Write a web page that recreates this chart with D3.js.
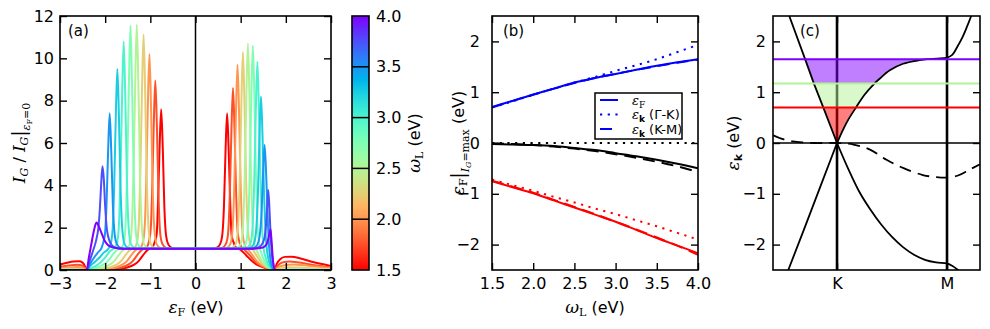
<!DOCTYPE html>
<html>
<head>
<meta charset="utf-8">
<script src="https://cdn.jsdelivr.net/npm/d3@7"></script>
<style>
  body { margin: 0; background: #fff; }
  svg { display: block; font-family: "DejaVu Sans", sans-serif; }
</style>
</head>
<body>
<svg id="fig" width="990" height="329"></svg>
<script>
// ---------- data: panel (a) ----------
const omegaL = [1.5, 1.75, 2.0, 2.25, 2.5, 2.75, 3.0, 3.25, 3.5, 3.75, 4.0];
const cbTicks = [1.5, 2.0, 2.5, 3.0, 3.5, 4.0];

// I_G / I_G(eF=0) vs eF, one curve per laser energy
const igCurves = [
  // 1.50 eV
  [[-3,0.26],[-2.85,0.34],[-2.7,0.4],[-2.58,0.41],[-2.5,0.35],[-2.44,0.15],[-2.41,0],[-2.2,0.01],[-1.96,0.02],[-1.71,0.05],[-1.51,0.12],[-1.36,0.25],[-1.26,0.42],[-1.16,0.7],[-1.06,0.95],[-0.96,1.05],[-0.9,1.35],[-0.86,1.67],[-0.83,3.19],[-0.795,5.78],[-0.76,7.6],[-0.725,5.78],[-0.69,3.0],[-0.65,1.6],[-0.6,1.2],[-0.52,1.04],[-0.41,1.0],[0.35,1.0],[0.46,1.04],[0.54,1.2],[0.59,1.6],[0.63,3.0],[0.665,5.62],[0.70,7.4],[0.735,5.62],[0.77,3.11],[0.80,1.63],[0.84,1.33],[0.90,1.05],[1.0,0.95],[1.12,0.7],[1.25,0.42],[1.35,0.26],[1.5,0.13],[1.65,0.04],[1.75,0],[1.8,0.3],[1.88,0.52],[1.98,0.62],[2.12,0.63],[2.35,0.53],[2.6,0.38],[2.8,0.28],[3.0,0.19]],
  // 1.75 eV
  [[-3,0.15],[-2.8,0.21],[-2.62,0.25],[-2.5,0.2],[-2.44,0.08],[-2.41,0],[-2.3,0.01],[-2.09,0.02],[-1.84,0.05],[-1.64,0.12],[-1.49,0.25],[-1.39,0.42],[-1.29,0.7],[-1.19,0.95],[-1.09,1.05],[-1.03,1.35],[-0.99,1.97],[-0.96,3.76],[-0.925,6.8],[-0.89,8.95],[-0.855,6.8],[-0.82,3.6],[-0.78,1.7],[-0.73,1.22],[-0.65,1.04],[-0.54,1.0],[0.48,1.0],[0.59,1.04],[0.67,1.22],[0.72,1.7],[0.76,3.61],[0.795,6.54],[0.83,8.6],[0.865,6.54],[0.90,3.61],[0.93,1.89],[0.97,1.33],[1.03,1.05],[1.09,0.95],[1.2,0.7],[1.31,0.42],[1.4,0.26],[1.53,0.13],[1.66,0.04],[1.75,0],[1.8,0.15],[1.87,0.3],[1.97,0.38],[2.08,0.4],[2.3,0.35],[2.6,0.24],[3.0,0.12]],
  // 2.00 eV
  [[-3,0.08],[-2.8,0.12],[-2.62,0.14],[-2.5,0.11],[-2.41,0],[-2.22,0.02],[-1.97,0.05],[-1.77,0.12],[-1.62,0.25],[-1.52,0.42],[-1.42,0.7],[-1.32,0.95],[-1.22,1.05],[-1.16,1.35],[-1.12,2.24],[-1.09,4.28],[-1.055,7.75],[-1.02,10.2],[-0.985,7.75],[-0.95,4.1],[-0.91,1.9],[-0.86,1.22],[-0.78,1.04],[-0.67,1.0],[0.58,1.0],[0.69,1.04],[0.77,1.22],[0.82,1.9],[0.86,4.07],[0.895,7.37],[0.93,9.7],[0.965,7.37],[1.0,4.07],[1.03,2.13],[1.07,1.35],[1.12,1.05],[1.17,0.95],[1.26,0.7],[1.36,0.42],[1.44,0.26],[1.55,0.13],[1.67,0.04],[1.76,0],[1.82,0.1],[1.9,0.19],[2.0,0.24],[2.15,0.26],[2.5,0.2],[3.0,0.08]],
  // 2.25 eV
  [[-3,0.04],[-2.75,0.06],[-2.55,0.05],[-2.41,0],[-2.1,0.05],[-1.9,0.12],[-1.75,0.25],[-1.65,0.42],[-1.55,0.7],[-1.45,0.95],[-1.35,1.05],[-1.29,1.35],[-1.25,2.45],[-1.22,4.67],[-1.185,8.46],[-1.15,11.13],[-1.115,8.46],[-1.08,4.5],[-1.04,2.0],[-0.99,1.22],[-0.91,1.04],[-0.8,1.0],[0.70,1.0],[0.81,1.04],[0.89,1.22],[0.94,1.95],[0.98,4.33],[1.015,7.83],[1.05,10.3],[1.085,7.83],[1.12,4.33],[1.15,2.27],[1.19,1.4],[1.24,1.05],[1.29,0.9],[1.36,0.65],[1.43,0.42],[1.5,0.26],[1.59,0.13],[1.68,0.04],[1.76,0],[1.84,0.06],[1.95,0.11],[2.1,0.13],[2.3,0.12],[2.6,0.08],[3.0,0.04]],
  // 2.50 eV
  [[-3,0.02],[-2.7,0.03],[-2.41,0],[-2.25,0.05],[-2.05,0.12],[-1.9,0.25],[-1.8,0.42],[-1.7,0.7],[-1.6,0.95],[-1.5,1.05],[-1.44,1.35],[-1.40,2.55],[-1.37,4.87],[-1.335,8.82],[-1.30,11.6],[-1.265,8.82],[-1.23,4.7],[-1.19,2.1],[-1.14,1.22],[-1.06,1.04],[-0.95,1.0],[0.81,1.0],[0.92,1.04],[1.0,1.22],[1.05,2.0],[1.09,4.49],[1.125,8.13],[1.16,10.7],[1.195,8.13],[1.23,4.49],[1.26,2.35],[1.30,1.3],[1.35,0.95],[1.41,0.65],[1.48,0.4],[1.55,0.22],[1.63,0.1],[1.70,0.03],[1.76,0],[1.9,0.03],[2.2,0.05],[2.6,0.03],[3.0,0.02]],
  // 2.75 eV
  [[-3,0.01],[-2.41,0],[-2.34,0.05],[-2.19,0.12],[-2.04,0.25],[-1.94,0.42],[-1.84,0.7],[-1.74,0.95],[-1.64,1.05],[-1.58,1.35],[-1.54,2.54],[-1.51,4.85],[-1.475,8.78],[-1.44,11.55],[-1.405,8.78],[-1.37,4.7],[-1.33,2.1],[-1.28,1.22],[-1.2,1.04],[-1.09,1.0],[0.92,1.0],[1.03,1.04],[1.11,1.22],[1.16,2.0],[1.20,4.45],[1.235,8.06],[1.27,10.6],[1.305,8.06],[1.34,4.45],[1.37,2.33],[1.41,1.2],[1.45,0.85],[1.50,0.55],[1.56,0.3],[1.62,0.14],[1.68,0.05],[1.76,0],[2.2,0.02],[3.0,0.01]],
  // 3.00 eV
  [[-3,0],[-2.41,0],[-2.29,0.12],[-2.19,0.22],[-2.09,0.38],[-1.99,0.62],[-1.89,0.9],[-1.79,1.05],[-1.73,1.35],[-1.69,2.38],[-1.66,4.54],[-1.625,8.21],[-1.59,10.8],[-1.555,8.21],[-1.52,4.4],[-1.48,2.0],[-1.43,1.22],[-1.35,1.04],[-1.24,1.0],[1.02,1.0],[1.13,1.04],[1.21,1.22],[1.26,1.9],[1.30,4.13],[1.335,7.48],[1.37,9.84],[1.405,7.48],[1.44,4.13],[1.47,2.16],[1.51,1.0],[1.55,0.6],[1.60,0.3],[1.65,0.13],[1.70,0.04],[1.76,0],[3.0,0]],
  // 3.25 eV
  [[-3,0],[-2.41,0],[-2.33,0.2],[-2.23,0.38],[-2.13,0.58],[-2.03,0.82],[-1.93,1.0],[-1.87,1.3],[-1.83,2.09],[-1.80,3.99],[-1.765,7.22],[-1.73,9.5],[-1.695,7.22],[-1.66,3.9],[-1.62,1.9],[-1.57,1.22],[-1.49,1.04],[-1.38,1.0],[1.10,1.0],[1.21,1.04],[1.29,1.22],[1.34,1.8],[1.38,3.44],[1.415,6.23],[1.45,8.2],[1.485,6.23],[1.52,3.44],[1.55,1.8],[1.59,0.8],[1.63,0.4],[1.67,0.17],[1.71,0.05],[1.76,0],[3.0,0]],
  // 3.50 eV
  [[-3,0],[-2.41,0],[-2.33,0.3],[-2.24,0.6],[-2.15,0.85],[-2.08,1.05],[-2.03,1.4],[-2.0,1.8],[-1.97,3.1],[-1.935,5.6],[-1.90,7.4],[-1.865,5.6],[-1.83,3.1],[-1.79,1.7],[-1.74,1.22],[-1.66,1.04],[-1.55,1.0],[1.18,1.0],[1.29,1.04],[1.37,1.2],[1.42,1.6],[1.46,2.6],[1.495,4.5],[1.53,5.9],[1.565,4.5],[1.6,2.4],[1.63,1.1],[1.66,0.5],[1.70,0.15],[1.75,0],[3.0,0]],
  // 3.75 eV
  [[-3,0],[-2.41,0],[-2.34,0.45],[-2.27,0.9],[-2.2,1.4],[-2.15,2.0],[-2.12,2.8],[-2.09,4.0],[-2.06,4.9],[-2.03,4.3],[-2.0,3.0],[-1.96,1.9],[-1.9,1.35],[-1.82,1.1],[-1.7,1.02],[-1.55,1.0],[1.2,1.0],[1.35,1.04],[1.45,1.15],[1.52,1.45],[1.56,2.1],[1.59,3.1],[1.61,3.78],[1.635,3.0],[1.66,1.8],[1.69,0.8],[1.72,0.3],[1.76,0],[3.0,0]],
  // 4.00 eV
  [[-3,0],[-2.41,0],[-2.36,0.6],[-2.3,1.3],[-2.25,1.85],[-2.21,2.18],[-2.19,2.24],[-2.16,2.15],[-2.1,1.85],[-2.02,1.42],[-1.94,1.18],[-1.84,1.07],[-1.7,1.02],[-1.5,1.0],[1.2,1.0],[1.4,1.03],[1.5,1.07],[1.57,1.2],[1.61,1.45],[1.64,1.75],[1.66,1.92],[1.68,1.5],[1.71,0.6],[1.74,0.1],[1.76,0],[3.0,0]]
];

// ---------- data: panel (b) ----------
const efUpper   = [0.71, 0.83, 0.955, 1.07, 1.19, 1.28, 1.36, 1.44, 1.52, 1.59, 1.65];
const ekGKUpper = [0.70, 0.82, 0.95, 1.07, 1.19, 1.30, 1.42, 1.53, 1.65, 1.79, 1.93];
const ekKMUpper = [0.70, 0.83, 0.95, 1.07, 1.18, 1.28, 1.36, 1.44, 1.51, 1.58, 1.64];
const efMiddle   = [-0.02, -0.03, -0.04, -0.06, -0.10, -0.14, -0.20, -0.26, -0.33, -0.41, -0.50];
const ekGKMiddle = [0, 0, 0, 0, 0, 0, 0, 0, 0, 0, 0];
const ekKMMiddle = [-0.01, -0.02, -0.04, -0.07, -0.11, -0.16, -0.22, -0.29, -0.37, -0.46, -0.57];
const efLower   = [-0.75, -0.87, -0.99, -1.13, -1.27, -1.41, -1.55, -1.71, -1.87, -2.02, -2.17];
const ekGKLower = [-0.72, -0.83, -0.94, -1.06, -1.17, -1.29, -1.40, -1.52, -1.64, -1.77, -1.90];
const ekKMLower = [-0.74, -0.86, -0.98, -1.12, -1.26, -1.40, -1.55, -1.70, -1.86, -2.02, -2.20];

// ---------- data: panel (c) ----------  k: K = 0, M = 1
const bandUpperGK = [[0,0],[-0.125,0.7],[-0.21,1.17],[-0.29,1.65],[-0.434,2.5],[-0.46,2.65]];
const bandLowerGK = [[0,0],[-0.15,-0.85],[-0.3,-1.7],[-0.443,-2.5],[-0.47,-2.65]];
const bandUpperKM = [[0,0],[0.05,0.24],[0.1,0.45],[0.173,0.7],[0.25,0.95],[0.34,1.17],[0.39,1.27],[0.48,1.43],[0.6,1.56],[0.75,1.63],[0.82,1.65],[0.91,1.66],[1.0,1.68],[1.05,1.74],[1.09,1.88],[1.14,2.08],[1.18,2.28],[1.22,2.5],[1.24,2.62]];
const bandLowerKM = [[0,0],[0.1,-0.5],[0.2,-0.95],[0.3,-1.3],[0.4,-1.6],[0.5,-1.85],[0.6,-2.05],[0.7,-2.2],[0.8,-2.3],[0.9,-2.35],[1.0,-2.37],[1.05,-2.42],[1.1,-2.5],[1.13,-2.56]];
const dashedBand  = [[-0.58,0.15],[-0.5,0.08],[-0.4,0.03],[-0.3,0.01],[-0.2,0.0],[0,0],[0.15,-0.03],[0.3,-0.13],[0.45,-0.33],[0.6,-0.49],[0.78,-0.63],[0.9,-0.67],[1.0,-0.68],[1.1,-0.64],[1.2,-0.53],[1.3,-0.42]];
const levelE = [0.70, 1.17, 1.65];
const levelOmega = [1.5, 2.5, 4.0];

// ---------- helpers ----------
const SERIF = '"DejaVu Serif", serif';
const svg = d3.select('#fig');
const plotTop = 16, plotBottom = 270;

// matplotlib 'rainbow' colormap
function rainbow(t) {
  const r = Math.min(1, Math.abs(2 * t - 0.5));
  const g = Math.sin(t * Math.PI);
  const b = Math.max(0, Math.cos(t * Math.PI / 2));
  return d3.rgb(r * 255, g * 255, b * 255).formatHex();
}
const colorOf = w => rainbow((4.0 - w) / 2.5);

function styleAxis(g) {
  g.selectAll('.domain').remove();
  g.selectAll('.tick line').attr('stroke', '#000').attr('stroke-width', 1.4);
  g.selectAll('.tick text')
    .attr('font-size', 16)
    .attr('font-family', '"DejaVu Sans", sans-serif')
    .attr('fill', '#000');
}

function drawAxes(x, y, xTicks, yTicks, xFmt, yFmt, yPad) {
  const [xl, xr] = x.range();
  const [yb, yt] = y.range();
  const g = svg.append('g');
  g.append('g').attr('transform', 'translate(0,' + yb + ')')
    .call(d3.axisBottom(x).tickValues(xTicks).tickFormat(xFmt).tickSizeInner(-7).tickSizeOuter(0).tickPadding(8));
  g.append('g').attr('transform', 'translate(0,' + yt + ')')
    .call(d3.axisTop(x).tickValues(xTicks).tickFormat(() => '').tickSizeInner(-7).tickSizeOuter(0));
  g.append('g').attr('transform', 'translate(' + xl + ',0)')
    .call(d3.axisLeft(y).tickValues(yTicks).tickFormat(yFmt).tickSizeInner(-7).tickSizeOuter(0).tickPadding(yPad || 6));
  g.append('g').attr('transform', 'translate(' + xr + ',0)')
    .call(d3.axisRight(y).tickValues(yTicks).tickFormat(() => '').tickSizeInner(-7).tickSizeOuter(0));
  styleAxis(g);
  g.append('rect')
    .attr('x', xl).attr('y', yt).attr('width', xr - xl).attr('height', yb - yt)
    .attr('fill', 'none').attr('stroke', '#000').attr('stroke-width', 1.6);
  return g;
}

function clipFor(id, x, y) {
  const [xl, xr] = x.range();
  const [yb, yt] = y.range();
  svg.append('clipPath').attr('id', id).append('rect')
    .attr('x', xl).attr('y', yt).attr('width', xr - xl).attr('height', yb - yt);
  return svg.append('g').attr('clip-path', 'url(#' + id + ')');
}

// rich text: parts {t, s(size), o(baseline offset), f(family), i(italic), b(bold)}
function mathText(sel, parts) {
  let cur = 0;
  parts.forEach(p => {
    const o = p.o || 0;
    const t = sel.append('tspan').text(p.t)
      .attr('font-size', p.s || 16)
      .attr('dy', o - cur);
    cur = o;
    if (p.f) t.attr('font-family', p.f);
    if (p.i) t.attr('font-style', 'italic');
    if (p.b) t.attr('font-weight', 'bold');
  });
  return sel;
}

function label(x, y, parts, rotate) {
  const t = svg.append('text')
    .attr('text-anchor', 'middle')
    .attr('fill', '#000')
    .attr('transform', 'translate(' + x + ',' + y + ')' + (rotate ? ' rotate(-90)' : ''));
  return mathText(t, parts);
}

// ---------- panel (a) ----------
const xA = d3.scaleLinear().domain([-3, 3]).range([60, 331]);
const yA = d3.scaleLinear().domain([0, 12]).range([plotBottom, plotTop]);
const gA = clipFor('clipA', xA, yA);

gA.append('line')
  .attr('x1', xA(0)).attr('x2', xA(0)).attr('y1', plotTop).attr('y2', plotBottom)
  .attr('stroke', '#000').attr('stroke-width', 1.5);

const lineA = d3.line()
  .x(d => xA(d[0]))
  .y(d => yA(d[1]))
  .curve(d3.curveMonotoneX);

gA.selectAll('.ig')
  .data(igCurves)
  .enter()
  .append('path')
  .attr('class', 'ig')
  .attr('d', lineA)
  .attr('fill', 'none')
  .attr('stroke', (d, i) => colorOf(omegaL[i]))
  .attr('stroke-width', 2);

drawAxes(xA, yA, [-3, -2, -1, 0, 1, 2, 3], [0, 2, 4, 6, 8, 10, 12], d3.format('d'), d3.format('d'), 6);

svg.append('text').attr('x', 68).attr('y', 36).attr('font-size', 15).text('(a)');

label(196, 313, [
  { t: 'ε', f: SERIF, i: true, s: 17 },
  { t: 'F', f: SERIF, s: 11, o: 3 },
  { t: ' (eV)', s: 16, o: 0 }
]);
label(25, 143, [
  { t: 'I', f: SERIF, i: true, s: 17 },
  { t: 'G', f: SERIF, i: true, s: 11, o: 3 },
  { t: ' / ', s: 16, o: 0 },
  { t: 'I', f: SERIF, i: true, s: 17 },
  { t: 'G', f: SERIF, i: true, s: 11, o: 3 },
  { t: '|', f: SERIF, s: 18, o: 0 },
  { t: 'ε', f: SERIF, i: true, s: 11, o: 5 },
  { t: 'F', f: SERIF, s: 8, o: 7 },
  { t: '=0', f: SERIF, s: 11, o: 5 }
], true);

// ---------- colorbar ----------
const cbX0 = 352, cbX1 = 369;
const yCb = d3.scaleLinear().domain([1.5, 4.0]).range([plotBottom, plotTop]);
const grad = svg.append('defs').append('linearGradient')
  .attr('id', 'cbgrad').attr('x1', 0).attr('y1', 1).attr('x2', 0).attr('y2', 0);
d3.range(0, 1.0001, 0.05).forEach(t => {
  grad.append('stop').attr('offset', t).attr('stop-color', colorOf(1.5 + 2.5 * t));
});
svg.append('rect')
  .attr('x', cbX0).attr('y', plotTop).attr('width', cbX1 - cbX0).attr('height', plotBottom - plotTop)
  .attr('fill', 'url(#cbgrad)');
svg.selectAll('.cbsep')
  .data(cbTicks.slice(1, -1))
  .enter()
  .append('line')
  .attr('x1', cbX0).attr('x2', cbX1)
  .attr('y1', d => yCb(d)).attr('y2', d => yCb(d))
  .attr('stroke', '#000').attr('stroke-width', 1.5);
svg.append('rect')
  .attr('x', cbX0).attr('y', plotTop).attr('width', cbX1 - cbX0).attr('height', plotBottom - plotTop)
  .attr('fill', 'none').attr('stroke', '#000').attr('stroke-width', 1.6);
const cbAxis = svg.append('g').attr('transform', 'translate(' + cbX1 + ',0)')
  .call(d3.axisRight(yCb).tickValues(cbTicks).tickFormat(d3.format('.1f')).tickSize(0).tickPadding(7));
styleAxis(cbAxis);

label(420, 143, [
  { t: 'ω', f: SERIF, i: true, s: 17 },
  { t: 'L', f: SERIF, s: 11, o: 3 },
  { t: ' (eV)', s: 16, o: 0 }
], true);

// ---------- panel (b) ----------
const xB = d3.scaleLinear().domain([1.5, 4.0]).range([492, 698]);
const yB = d3.scaleLinear().domain([-2.5, 2.5]).range([plotBottom, plotTop]);
const gB = clipFor('clipB', xB, yB);

const seriesB = [
  { v: efUpper,    c: '#0000ff', dash: null },
  { v: ekGKUpper,  c: '#0000ff', dash: '2.2,5.5' },
  { v: ekKMUpper,  c: '#0000ff', dash: '12,7' },
  { v: efMiddle,   c: '#000000', dash: null },
  { v: ekGKMiddle, c: '#000000', dash: '2.2,5.5' },
  { v: ekKMMiddle, c: '#000000', dash: '12,7' },
  { v: efLower,    c: '#ff0000', dash: null },
  { v: ekGKLower,  c: '#ff0000', dash: '2.2,5.5' },
  { v: ekKMLower,  c: '#ff0000', dash: '12,7' }
];
const lineB = d3.line()
  .x((d, i) => xB(omegaL[i]))
  .y(d => yB(d))
  .curve(d3.curveMonotoneX);

gB.selectAll('.sb')
  .data(seriesB)
  .enter()
  .append('path')
  .attr('class', 'sb')
  .attr('d', d => lineB(d.v))
  .attr('fill', 'none')
  .attr('stroke', d => d.c)
  .attr('stroke-width', 2)
  .attr('stroke-dasharray', d => d.dash);

drawAxes(xB, yB, [1.5, 2.0, 2.5, 3.0, 3.5, 4.0], [-2, -1, 0, 1, 2], d3.format('.1f'), d3.format('d'), 12);

svg.append('text').attr('x', 503).attr('y', 36).attr('font-size', 15).text('(b)');

// legend
const leg = svg.append('g').attr('transform', 'translate(595,93)');
leg.append('rect').attr('width', 87).attr('height', 46)
  .attr('fill', '#fff').attr('stroke', '#000').attr('stroke-width', 1.5);
const legItems = [
  { dash: null, parts: [{ t: 'ε', f: SERIF, i: true, s: 13 }, { t: 'F', f: SERIF, s: 9, o: 3 }] },
  { dash: '2.2,5.5', parts: [{ t: 'ε', f: SERIF, i: true, s: 13 }, { t: 'k', s: 9, o: 3, b: true }, { t: ' (Γ-K)', s: 13, o: 0 }] },
  { dash: '12,7', parts: [{ t: 'ε', f: SERIF, i: true, s: 13 }, { t: 'k', s: 9, o: 3, b: true }, { t: ' (K-M)', s: 13, o: 0 }] }
];
legItems.forEach((it, i) => {
  const yy = 7 + i * 14.5;
  leg.append('line').attr('x1', 5).attr('x2', 23).attr('y1', yy).attr('y2', yy)
    .attr('stroke', '#0000ff').attr('stroke-width', 2).attr('stroke-dasharray', it.dash);
  const t = leg.append('text').attr('x', 37).attr('y', yy + 4.5).attr('fill', '#000');
  mathText(t, it.parts);
});

label(595, 313, [
  { t: 'ω', f: SERIF, i: true, s: 17 },
  { t: 'L', f: SERIF, s: 11, o: 3 },
  { t: ' (eV)', s: 16, o: 0 }
]);
label(464, 143, [
  { t: 'ε', f: SERIF, i: true, s: 17 },
  { t: 'F', f: SERIF, s: 11, o: 3 },
  { t: '|', f: SERIF, s: 18, o: 0 },
  { t: 'I', f: SERIF, i: true, s: 11, o: 5 },
  { t: 'G', f: SERIF, i: true, s: 8, o: 7 },
  { t: '=max', f: SERIF, s: 11, o: 5 },
  { t: ' (eV)', s: 16, o: 0 }
], true);

// ---------- panel (c) ----------
const xC = d3.scaleLinear().domain([-0.582, 1.3]).range([773, 980]);
const yC = d3.scaleLinear().domain([-2.5, 2.5]).range([plotBottom, plotTop]);
const gC = clipFor('clipC', xC, yC);

[0, 1].forEach(k => {
  gC.append('line')
    .attr('x1', xC(k)).attr('x2', xC(k)).attr('y1', plotTop).attr('y2', plotBottom)
    .attr('stroke', '#000').attr('stroke-width', 2.6);
});
gC.append('line')
  .attr('x1', 773).attr('x2', 980).attr('y1', yC(0)).attr('y2', yC(0))
  .attr('stroke', '#000').attr('stroke-width', 1.3);

const lineLin = d3.line().x(d => xC(d[0])).y(d => yC(d[1]));
const lineSm = d3.line().x(d => xC(d[0])).y(d => yC(d[1])).curve(d3.curveCatmullRom);

// shaded regions between the Dirac cone branches
levelE.forEach((hi, i) => {
  const lo = i === 0 ? 0 : levelE[i - 1];
  const left = bandUpperGK.filter(d => d[1] >= lo && d[1] <= hi);
  const right = bandUpperKM.filter(d => d[1] >= lo && d[1] <= hi && d[0] <= 1).reverse();
  const path = lineLin(left) + lineSm(right).replace(/^M/, 'L') + 'Z';
  gC.append('path')
    .attr('d', path)
    .attr('fill', colorOf(levelOmega[i]))
    .attr('fill-opacity', 0.5)
    .attr('stroke', 'none');
});

[bandUpperGK, bandLowerGK].forEach(b => {
  gC.append('path').attr('d', lineLin(b)).attr('fill', 'none')
    .attr('stroke', '#000').attr('stroke-width', 1.8);
});
[bandUpperKM, bandLowerKM].forEach(b => {
  gC.append('path').attr('d', lineSm(b)).attr('fill', 'none')
    .attr('stroke', '#000').attr('stroke-width', 1.8);
});
gC.append('path').attr('d', lineSm(dashedBand)).attr('fill', 'none')
  .attr('stroke', '#000').attr('stroke-width', 1.8).attr('stroke-dasharray', '12,7');

levelE.forEach((e, i) => {
  gC.append('line')
    .attr('x1', 773).attr('x2', 980).attr('y1', yC(e)).attr('y2', yC(e))
    .attr('stroke', colorOf(levelOmega[i])).attr('stroke-width', 2);
});

drawAxes(xC, yC, [0, 1], [-2, -1, 0, 1, 2], d => (d === 0 ? 'K' : 'M'), d3.format('d'), 7);

svg.append('text').attr('x', 800).attr('y', 36).attr('font-size', 15).text('(c)');

label(739, 143, [
  { t: 'ε', f: SERIF, i: true, s: 17 },
  { t: 'k', s: 11, o: 3, b: true },
  { t: ' (eV)', s: 16, o: 0 }
], true);
</script>
</body>
</html>
